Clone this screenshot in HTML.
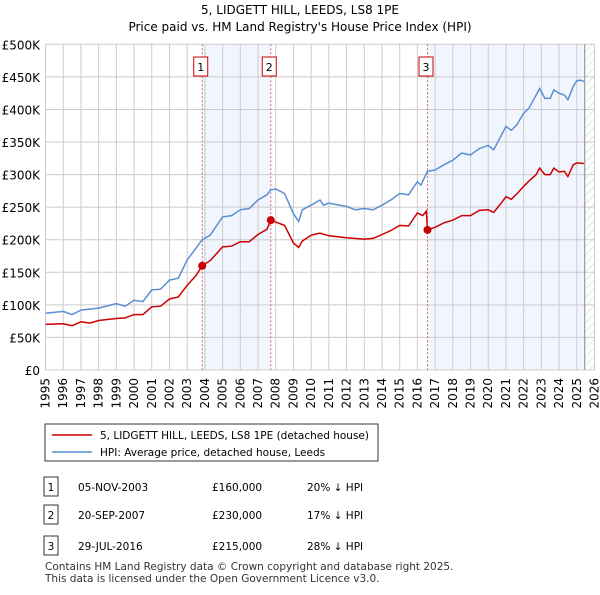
<!DOCTYPE html>
<html><head><meta charset="utf-8"><style>
body{margin:0;background:#fff;font-family:"Liberation Sans","DejaVu Sans",sans-serif;}
svg text{font-family:"DejaVu Sans","Liberation Sans",sans-serif;}
</style></head><body>
<svg id="c" width="600" height="590" xmlns="http://www.w3.org/2000/svg">
<defs><pattern id="hatch" width="6" height="6" patternUnits="userSpaceOnUse" patternTransform="rotate(45)"><line x1="0" y1="0" x2="0" y2="6" stroke="#ccc" stroke-width="1"/></pattern></defs>
<text x="300" y="14" text-anchor="middle" font-size="12">5, LIDGETT HILL, LEEDS, LS8 1PE</text>
<text x="300" y="31" text-anchor="middle" font-size="12">Price paid vs. HM Land Registry's House Price Index (HPI)</text>
<g id="plot"></g>
<g>
<rect x="45" y="424" width="333" height="37" fill="#fff" stroke="#333"/>
<line x1="52" y1="435" x2="92" y2="435" stroke="#cc0000" stroke-width="1.5"/>
<text x="100" y="439" font-size="10.5">5, LIDGETT HILL, LEEDS, LS8 1PE (detached house)</text>
<line x1="52" y1="452" x2="92" y2="452" stroke="#5b8fd4" stroke-width="1.5"/>
<text x="100" y="456" font-size="10.5">HPI: Average price, detached house, Leeds</text>
</g>
<g id="table" font-size="10.5"></g>
<text x="45" y="570" font-size="10.5" fill="#333">Contains HM Land Registry data © Crown copyright and database right 2025.</text>
<text x="45" y="582" font-size="10.5" fill="#333">This data is licensed under the Open Government Licence v3.0.</text>
</svg>
<script>
const hpiYears=[1995,1996,1996.5,1997,1998,1999,1999.5,2000,2000.5,2001,2001.5,2002,2002.5,2003,2003.5,2003.85,2004.3,2005,2005.5,2006,2006.5,2007,2007.5,2007.7,2008,2008.5,2009,2009.3,2009.5,2010,2010.5,2010.7,2011,2012,2012.5,2013,2013.5,2014,2014.5,2015,2015.5,2016,2016.2,2016.57,2017,2017.5,2018,2018.5,2019,2019.5,2020,2020.3,2020.7,2021,2021.3,2021.6,2022,2022.3,2022.7,2022.9,2023.2,2023.5,2023.7,2024,2024.3,2024.5,2024.8,2025,2025.2,2025.4];
const hpiValues=[87,90,85,92,95,102,98,107,105,123,124,138,141,169,187,200,207,235,237,246,248,261,269,276,278,271,240,228,246,253,261,253,256,251,246,248,246,253,261,271,269,289,284,305,307,315,322,333,330,340,345,338,358,374,368,376,394,402,422,432,417,417,430,425,422,415,435,444,445,443];
const priceYears=[1995,1996,1996.5,1997,1997.5,1998,1999,1999.5,2000,2000.5,2001,2001.5,2002,2002.5,2003,2003.5,2003.85,2004.3,2005,2005.5,2006,2006.5,2007,2007.5,2007.72,2008,2008.5,2009,2009.3,2009.5,2010,2010.5,2011,2012,2013,2013.5,2014,2014.5,2015,2015.5,2016,2016.3,2016.5,2016.57,2017,2017.5,2018,2018.5,2019,2019.5,2020,2020.3,2020.7,2021,2021.3,2021.6,2022,2022.3,2022.7,2022.9,2023.2,2023.5,2023.7,2024,2024.3,2024.5,2024.8,2025,2025.4];
const priceValues=[70,71,68,74,72,76,79,80,85,85,97,98,109,112,130,145,160,168,189,190,197,197,208,216,230,227,222,195,188,198,207,210,206,203,201,202,208,214,222,221,241,237,244,215,219,226,230,237,237,245,246,242,255,266,262,270,282,290,300,310,300,300,310,304,305,297,315,318,317];
const saleLabels=["1","2","3"];
const saleYears=[2003.85,2007.72,2016.57];
const saleValues=[160,230,215];
const saleDates=["05-NOV-2003","20-SEP-2007","29-JUL-2016"];
const salePrices=["£160,000","£230,000","£215,000"];
const saleDiffs=["20% ↓ HPI","17% ↓ HPI","28% ↓ HPI"];
const yTicks=[0,50,100,150,200,250,300,350,400,450,500];
const yTickLabels=["£0","£50K","£100K","£150K","£200K","£250K","£300K","£350K","£400K","£450K","£500K"];
const xTicks=[1995,1996,1997,1998,1999,2000,2001,2002,2003,2004,2005,2006,2007,2008,2009,2010,2011,2012,2013,2014,2015,2016,2017,2018,2019,2020,2021,2022,2023,2024,2025,2026];
const dataEnd=2025.45;

const NS="http://www.w3.org/2000/svg";
const X0=45.5,X1=594.5,Y0=370,Y1=44.3;
const xs=y=>X0+(y-1995)/(2026-1995)*(X1-X0);
const ys=v=>Y0-v/500*(Y0-Y1);
const plot=document.getElementById('plot');
function mk(tag,attrs,parent){const e=document.createElementNS(NS,tag);for(const k in attrs)e.setAttribute(k,attrs[k]);(parent||plot).appendChild(e);return e;}

// shaded ownership periods
for(let i=0;i<saleYears.length;i++){
  const end=i+1<saleYears.length?saleYears[i+1]:dataEnd;
  if(i===0||i===2){const r=mk('rect',{x:xs(saleYears[i]),y:Y1,width:xs(end)-xs(saleYears[i]),height:Y0-Y1,fill:'#eef3fc',opacity:0.8});
  
  }
}
const h=mk('rect',{x:xs(dataEnd),y:Y1,width:X1-xs(dataEnd),height:Y0-Y1,fill:'url(#hatch)'});


// grid
yTicks.forEach((t,i)=>{
  mk('line',{x1:X0,x2:X1,y1:ys(t),y2:ys(t),stroke:'#ccc','stroke-width':1});
  const tx=mk('text',{x:40,y:ys(t)+5,'text-anchor':'end','font-size':12});
  tx.textContent=yTickLabels[i];
  
  
});
xTicks.forEach(t=>{
  mk('line',{x1:xs(t),x2:xs(t),y1:Y1,y2:Y0,stroke:'#ccc','stroke-width':1});
  const tx=mk('text',{x:xs(t)+4,y:Y0+8,'text-anchor':'end','font-size':12,transform:`rotate(-90 ${xs(t)+4} ${Y0+8})`});
  tx.textContent=t;
  
  
});
mk('line',{x1:xs(dataEnd),x2:xs(dataEnd),y1:Y1,y2:Y0,stroke:'#888','stroke-width':1});
// sale vlines + markers
saleYears.forEach((y,i)=>{
  mk('line',{x1:xs(y),x2:xs(y),y1:Y1,y2:Y0,stroke:'#e06070','stroke-width':1,'stroke-dasharray':'2,2'});
  const b=mk('rect',{x:xs(y)-8.5,y:57,width:14,height:19,fill:'#fff',stroke:'#cc0000'});
  
  
  const t=mk('text',{x:xs(y)-1.5,y:71,'text-anchor':'middle','font-size':11});
  t.textContent=saleLabels[i];
});
const line=(xa,va,col,name)=>{
  const p=mk('path',{d:xa.map((y,i)=>(i?'L':'M')+xs(y).toFixed(1)+','+ys(va[i]).toFixed(1)).join(''),fill:'none',stroke:col,'stroke-width':1.5});
  
  
};
line(hpiYears,hpiValues,'#5b8fd4','hpi-line');
line(priceYears,priceValues,'#cc0000','price-line');
saleYears.forEach((y,i)=>{
  const c=mk('circle',{cx:xs(y),cy:ys(saleValues[i]),r:4,fill:'#cc0000'});
  
  
});
// table
const tb=document.getElementById('table');
const rowY=[487,515,546];
saleLabels.forEach((l,i)=>{
  const y=rowY[i];
  mk('rect',{x:44,y:y-10,width:14,height:19,fill:'#fff',stroke:'#333'},tb);
  const a=mk('text',{x:51,y:y+4,'text-anchor':'middle'},tb);a.textContent=l;
  const d=mk('text',{x:78,y:y+4},tb);d.textContent=saleDates[i];
  
  
  const p=mk('text',{x:212,y:y+4},tb);p.textContent=salePrices[i];
  
  
  const f=mk('text',{x:307,y:y+4},tb);f.textContent=saleDiffs[i];
  
  
});
</script>
</body></html>
